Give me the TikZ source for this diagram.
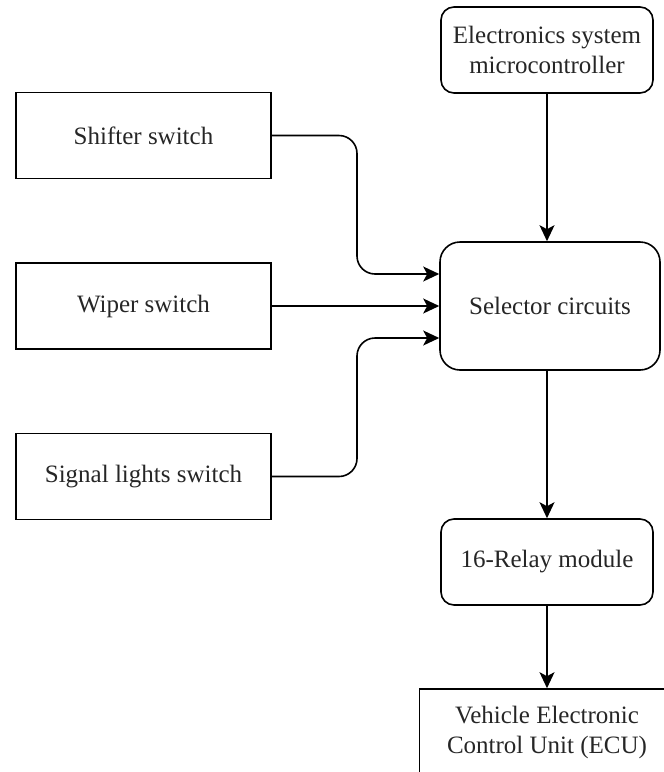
\documentclass[tikz,border=0pt]{standalone}
\usepackage{fontspec}
\newfontfamily\boxfont{Liberation Serif}
\usetikzlibrary{arrows.meta}

\tikzset{
  box/.style={draw, line width=1.6pt, minimum width=255pt, minimum height=86pt,
    align=center, font=\boxfont\fontsize{25}{30}\selectfont, text=black!85},
  rbox/.style={box, rounded corners=13pt, minimum width=212pt},
  link/.style={line width=1.6pt, rounded corners=18pt,
    -{Stealth[length=16pt,width=15pt,inset=4pt]}}
}

\begin{document}
\begin{tikzpicture}[x=1pt,y=-1pt]

\clip (0,0) rectangle (664,772);

\node[rbox] (micro) at (547,50) {Electronics system\\microcontroller};

\node[box] (shifter) at (143.5,135.5) {Shifter switch};
\node[box] (wiper) at (143.5,306) {Wiper switch};
\node[box] (signal) at (143.5,476.5) {Signal lights switch};

\node[rbox, rounded corners=20pt, minimum width=220pt, minimum height=128pt]
  (selector) at (550,306) {Selector circuits};

\node[rbox] (relay) at (547,562) {16-Relay module};
\node[box] (ecu) at (547,732) {Vehicle Electronic\\Control Unit (ECU)};

% inputs of the selector
\coordinate (in1) at ([yshift=32pt]selector.west);
\coordinate (in3) at ([yshift=-32pt]selector.west);
\coordinate (bus) at (357,0);

\draw[link] (shifter.east) -| (bus |- in1) -- (in1);
\draw[link] (wiper.east) -- (selector.west);
\draw[link] (signal.east) -| (bus |- in3) -- (in3);

\draw[link] (micro.south) -- (micro.south |- selector.north);
\draw[link] (relay.north |- selector.south) -- (relay.north);
\draw[link] (relay.south) -- (ecu.north);

\end{tikzpicture}
\end{document}
